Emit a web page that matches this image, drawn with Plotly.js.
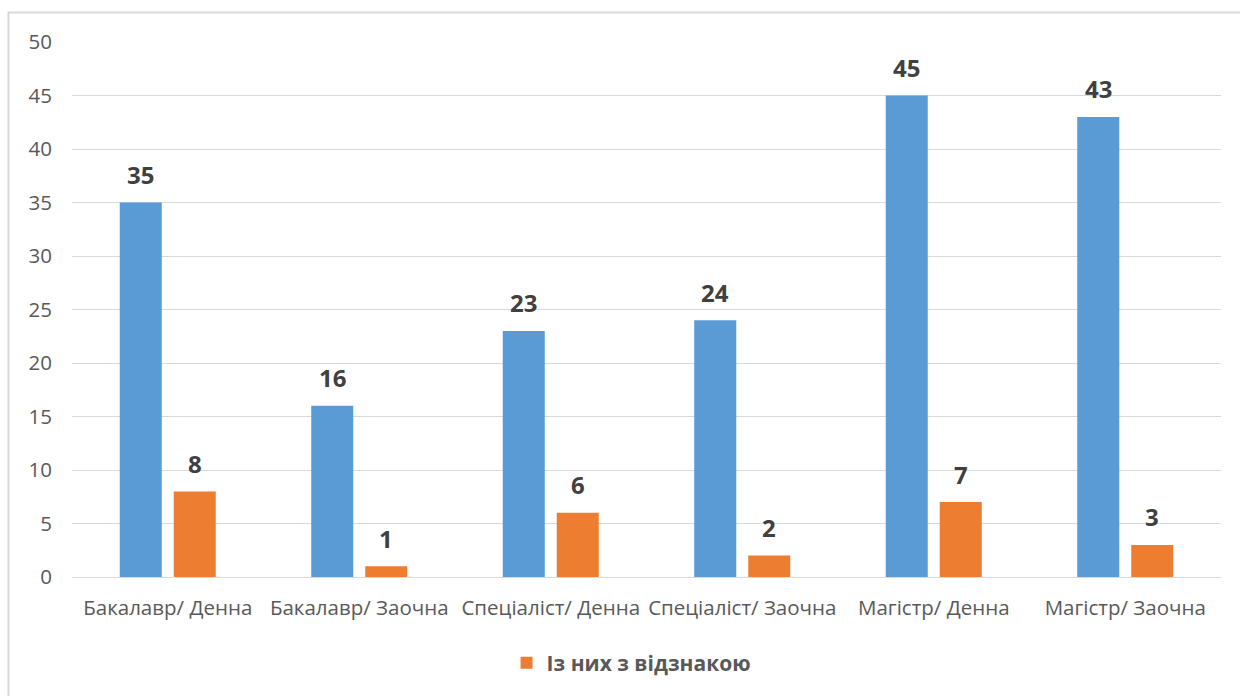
<!DOCTYPE html>
<html>
<head>
<meta charset="utf-8">
<script src="https://cdn.plot.ly/plotly-3.0.1.min.js"></script>
<style>
html,body{margin:0;padding:0;background:#fff;}
#chart{width:1240px;height:696px;}
</style>
</head>
<body>
<div id="chart"></div>
<script>
const categories = ["Бакалавр/ Денна", "Бакалавр/ Заочна", "Спеціаліст/ Денна", "Спеціаліст/ Заочна", "Магістр/ Денна", "Магістр/ Заочна"];
const totalValues = [35, 16, 23, 24, 45, 43];
const honorsValues = [8, 1, 6, 2, 7, 3];
const totalName = "Всього";
const honorsName = "Із них з відзнакою";
const yTicks = [0, 5, 10, 15, 20, 25, 30, 35, 40, 45, 50];

const blue = "#5B9BD5";
const orange = "#ED7D31";
const fontFam = "'Open Sans', 'Noto Sans', sans-serif";

const traces = [
  {type: "bar", name: totalName, x: categories, y: totalValues, marker: {color: blue}, showlegend: false, hoverinfo: "x+y"},
  {type: "bar", name: honorsName, x: categories, y: honorsValues, marker: {color: orange}, showlegend: true, hoverinfo: "x+y"}
];

const annotations = [];
function addLabels(vals, off) {
  vals.forEach((v, i) => {
    annotations.push({
      x: i, y: v, xref: "x", yref: "y", text: String(v), showarrow: false,
      xshift: off, yshift: 28, yanchor: "middle", xanchor: "center",
      font: {family: fontFam, size: 24, color: "#404040", weight: 700}
    });
  });
}
addLabels(totalValues, -27);
addLabels(honorsValues, 27);

const layout = {
  width: 1240, height: 696,
  margin: {l: 72, r: 19, t: 42, b: 119},
  paper_bgcolor: "#fff", plot_bgcolor: "#fff",
  barmode: "group", bargap: 0.436, bargroupgap: 0.222,
  font: {family: fontFam, color: "#595959", size: 20},
  xaxis: {
    type: "category", showgrid: false, ticks: "", showline: false, zeroline: false,
    tickfont: {family: fontFam, size: 20.5, color: "#595959"}, ticklabelstandoff: 16
  },
  yaxis: {
    range: [0, 50], tickvals: yTicks, ticktext: yTicks.map(String), showgrid: true, gridcolor: "#d9d9d9", gridwidth: 1,
    zeroline: true, zerolinecolor: "#d9d9d9", zerolinewidth: 1, showline: false, ticks: "",
    tickfont: {family: fontFam, size: 20.5, color: "#595959"}, ticklabelstandoff: 19
  },
  legend: {
    orientation: "h", x: 0.487, xanchor: "center", y: -0.161, yanchor: "middle",
    font: {family: fontFam, size: 21, color: "#595959", weight: 700}
  },
  annotations: annotations,
  shapes: [{
    type: "rect", xref: "paper", yref: "paper",
    x0: -0.0553, x1: 1.1, y0: -0.5, y1: 1.0551,
    line: {color: "#d9d9d9", width: 2}, fillcolor: "rgba(0,0,0,0)", layer: "below"
  }]
};

Plotly.newPlot("chart", traces, layout, {displayModeBar: false, staticPlot: true});
</script>
</body>
</html>
